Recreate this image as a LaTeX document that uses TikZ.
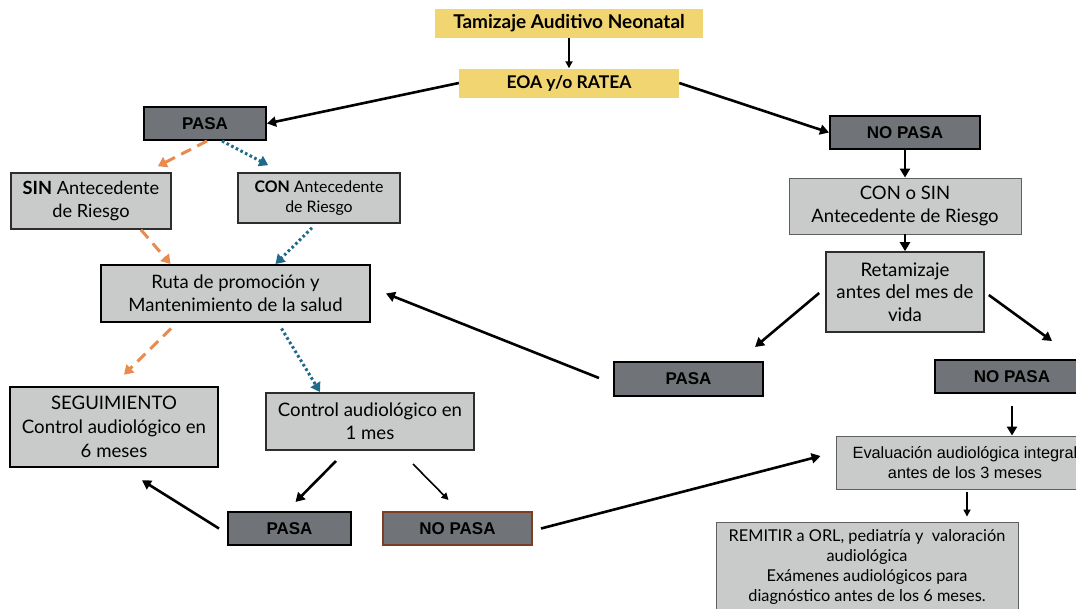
\documentclass[tikz,border=0pt]{standalone}
\usepackage{fontspec}
\setmainfont{Lato}
\newfontfamily\arialf{Liberation Sans}
\usetikzlibrary{arrows.meta}
\definecolor{ylw}{RGB}{241,213,112}
\definecolor{dkg}{RGB}{112,115,119}
\definecolor{ltg}{RGB}{201,202,202}
\definecolor{org}{RGB}{233,138,78}
\definecolor{blu}{RGB}{31,106,138}
\definecolor{brn}{RGB}{125,62,35}
\definecolor{bdr}{RGB}{45,45,45}
\definecolor{thg}{RGB}{95,95,95}
\newcommand\fsz[2]{\fontsize{#1}{#2}\selectfont}
\begin{document}
\begin{tikzpicture}[x=1pt,y=-1pt,
  box/.style={rectangle, inner sep=0pt, align=center, text=black},
  yel/.style={box, fill=ylw},
  dark/.style={box, fill=dkg, draw=black, line width=2pt, font=\arialf\bfseries\fsz{17}{19}},
  lite/.style={box, fill=ltg, draw=bdr, line width=1.6pt},
  litethin/.style={box, fill=ltg, draw=thg, line width=0.9pt},
  arr/.style={draw=black, line width=2.6pt, -{Triangle[length=9pt,width=10pt]}},
  arrthin/.style={draw=black, line width=1.6pt, -{Triangle[length=7pt,width=7pt]}},
  odash/.style={draw=org, line width=3pt, dash pattern=on 11pt off 7pt, -{Triangle[length=9pt,width=11pt]}},
  bdot/.style={draw=blu, line width=3pt, dash pattern=on 2.6pt off 2.6pt, -{Triangle[length=9pt,width=11pt]}}
]
\useasboundingbox (0,0) rectangle (1076,608);
\fill[white] (0,0) rectangle (1076,608);
\clip (0,0) rectangle (1076,608);

% nodes
\node[yel, minimum width=268, minimum height=29, font=\bfseries\fsz{19}{22}] (tam) at (569,23.5) {Tamizaje Auditivo Neonatal};
\node[yel, minimum width=220, minimum height=29, font=\bfseries\fsz{17.5}{20}] (eoa) at (569,83) {EOA y/o RATEA};
\node[dark, minimum width=122, minimum height=33] (pasa1) at (205,123.5) {PASA};
\node[dark, minimum width=150, minimum height=33] (nop1) at (905,132.5) {NO PASA};
\node[lite, minimum width=160, minimum height=56, font=\fsz{18.2}{23}] (sin) at (91,201) {\textbf{SIN} Antecedente\\de Riesgo};
\node[lite, minimum width=162, minimum height=50, font=\fsz{15.9}{20}] (con) at (319,198) {\textbf{CON} Antecedente\\de Riesgo};
\node[litethin, minimum width=232, minimum height=56, font=\fsz{18.5}{22.4}] (cos) at (905,206) {CON o SIN\\Antecedente de Riesgo};
\node[lite, draw=black, line width=2pt, minimum width=269, minimum height=57, font=\fsz{18.5}{22.7}] (ruta) at (235.5,293.5) {Ruta de promoción y\\Mantenimiento de la salud};
\node[lite, minimum width=158, minimum height=80, font=\fsz{18.7}{22.7}] (ret) at (905,292) {Retamizaje\\antes del mes de\\vida};
\node[dark, minimum width=149, minimum height=34] (pasa2) at (688.5,379) {PASA};
\node[dark, minimum width=154, minimum height=33] (nop2) at (1012,376.5) {NO PASA};
\node[lite, draw=black, line width=2.6pt, minimum width=208, minimum height=80, font=\fsz{18.6}{23.8}] (seg) at (114,427) {SEGUIMIENTO\\Control audiológico en\\6 meses};
\node[lite, draw=bdr, line width=2pt, minimum width=208, minimum height=57, font=\fsz{18.6}{23.4}] (c1) at (370,421.5) {Control audiológico en\\1 mes};
\node[litethin, minimum width=258, minimum height=53, font=\arialf\fsz{16.3}{19.5}] (eval) at (965,462.5) {Evaluación audiológica integral\\antes de los 3 meses};
\node[dark, minimum width=123, minimum height=33] (pasa3) at (289.5,528.5) {PASA};
\node[dark, draw=brn, minimum width=149, minimum height=33] (nop3) at (457.5,528.5) {NO PASA};
\node[litethin, minimum width=302, minimum height=90, font=\fsz{16.3}{20.2}] (rem) at (867,567) {REMITIR a ORL, pediatría y\ \ valoración\\audiológica\\Exámenes audiológicos para\\diagnóstico antes de los 6 meses.};

% connectors
\draw[arrthin, line width=2pt] (tam) -- (eoa);
\draw[arr] (eoa.west) -- (pasa1.east);
\draw[arr] (eoa.east) -- (nop1.west);
\draw[arr] (nop1) -- (cos);
\draw[arr] (cos) -- (ret);
\draw[arr] ([shift={(-6,1)}]ret.west) -- ([shift={(-9,-14)}]pasa2.north east);
\draw[arr] ([shift={(4,3)}]ret.east) -- ([shift={(40,-18)}]nop2.north);
\draw[arr] ([shift={(-14,-1)}]pasa2.west) -- ([shift={(15,0)}]ruta.east);
\draw[arr] ([shift={(0,12)}]nop2.south) -- (nop2.south |- eval.north);
\draw[arrthin] ([shift={(2,3)}]eval.south) -- ([shift={(2,-5)}]eval.south |- rem.north);
\draw[arr] ([shift={(8,0)}]nop3.east) -- ([shift={(-15,-6.5)}]eval.west);
\draw[arr] ([shift={(-34,10)}]c1.south) -- ([shift={(6,-9)}]pasa3.north);
\draw[arrthin] ([shift={(43,13)}]c1.south) -- ([shift={(-9,-11)}]nop3.north);
\draw[arr] ([shift={(-8,0)}]pasa3.west) -- ([shift={(28,12)}]seg.south);
\draw[odash] ([shift={(2,0)}]pasa1.south) -- ([shift={(-14,-6)}]sin.north east);
\draw[bdot] ([shift={(17,0)}]pasa1.south) -- ([shift={(31,-7)}]con.north west);
\draw[odash] ([shift={(50,0)}]sin.south) -- ([shift={(-65,0)}]ruta.north);
\draw[bdot] ([shift={(-7,4)}]con.south) -- ([shift={(40,0)}]ruta.north);
\draw[odash] ([shift={(-64.5,5.5)}]ruta.south) -- ([shift={(10,-11)}]seg.north);
\draw[bdot] ([shift={(46,5.5)}]ruta.south) -- ([shift={(-50,0)}]c1.north);
\end{tikzpicture}
\end{document}
